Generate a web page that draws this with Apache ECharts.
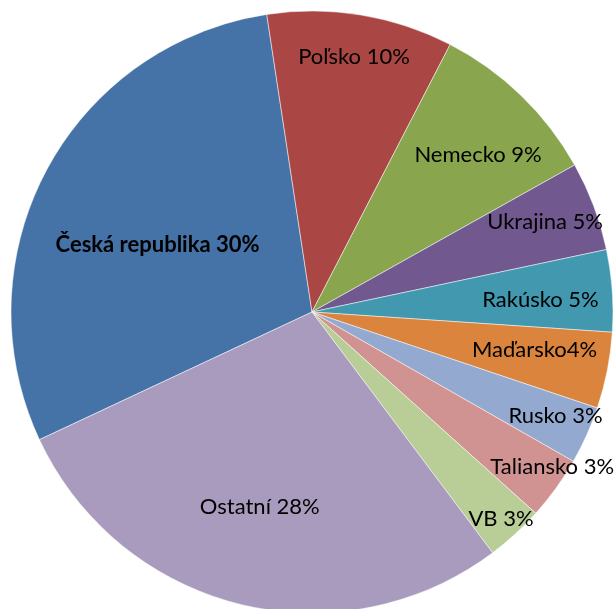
<!DOCTYPE html>
<html>
<head>
<meta charset="utf-8">
<script src="https://cdn.jsdelivr.net/npm/echarts@6/dist/echarts.min.js"></script>
<style>
  html, body { margin: 0; padding: 0; background: #fff; }
  #chart { width: 614px; height: 609px; }
</style>
</head>
<body>
<div id="chart"></div>
<script>
// data (share of the total, in %)
const names = ["Česká republika", "Poľsko", "Nemecko", "Ukrajina", "Rakúsko",
  "Maďarsko", "Rusko", "Taliansko", "VB", "Ostatní"];
const values = [29.6, 10.0, 9.3, 4.8, 4.4, 4.1, 3.1, 3.4, 3.1, 28.3];
const labelTexts = ["Česká republika 30%", "Poľsko 10%", "Nemecko 9%", "Ukrajina 5%",
  "Rakúsko 5%", "Maďarsko4%", "Rusko 3%", "Taliansko 3%", "VB 3%", "Ostatní 28%"];
const colors = ["#4572A7", "#AA4643", "#89A54E", "#71588F", "#4198AF",
  "#DB843D", "#93A9CF", "#D19392", "#B9CD96", "#A99BBD"];
// where each label sits: part of the radius, and turn (deg) off the slice middle
const labelRadius = [0.56, 0.86, 0.76, 0.83, 0.76, 0.75, 0.88, 0.95, 0.93, 0.67];
const labelTurn = [-4.5, 0, 2.5, -0.5, 1, -1.5, -1, -3, 0, 1];

const firstAngle = 244.9; // clockwise from 12 o'clock, where the first slice starts
const R = 301;

const total = values.reduce((a, b) => a + b, 0);
let cum = 0;
const data = values.map((v, i) => {
  const mid = (firstAngle + 360 * (cum + v / 2) / total + labelTurn[i]) * Math.PI / 180;
  cum += v;
  const r = R * labelRadius[i];
  return {
    name: names[i],
    value: v,
    itemStyle: { color: colors[i] },
    label: {
      formatter: labelTexts[i],
      offset: [r * Math.sin(mid), -r * Math.cos(mid)],
      fontWeight: i === 0 ? "bold" : "normal",
    },
  };
});

const chart = echarts.init(document.getElementById("chart"));
chart.setOption({
  animation: false,
  series: [
    {
      type: "pie",
      center: [312, 312],
      radius: R,
      startAngle: 90 - firstAngle,
      clockwise: true,
      data: data,
      itemStyle: { borderColor: "#fff", borderWidth: 0.5 },
      label: {
        show: true,
        position: "center",
        color: "#000",
        fontFamily: "Lato",
        fontSize: 22,
      },
      labelLine: { show: false },
      emphasis: { disabled: true },
    },
  ],
});
</script>
</body>
</html>
